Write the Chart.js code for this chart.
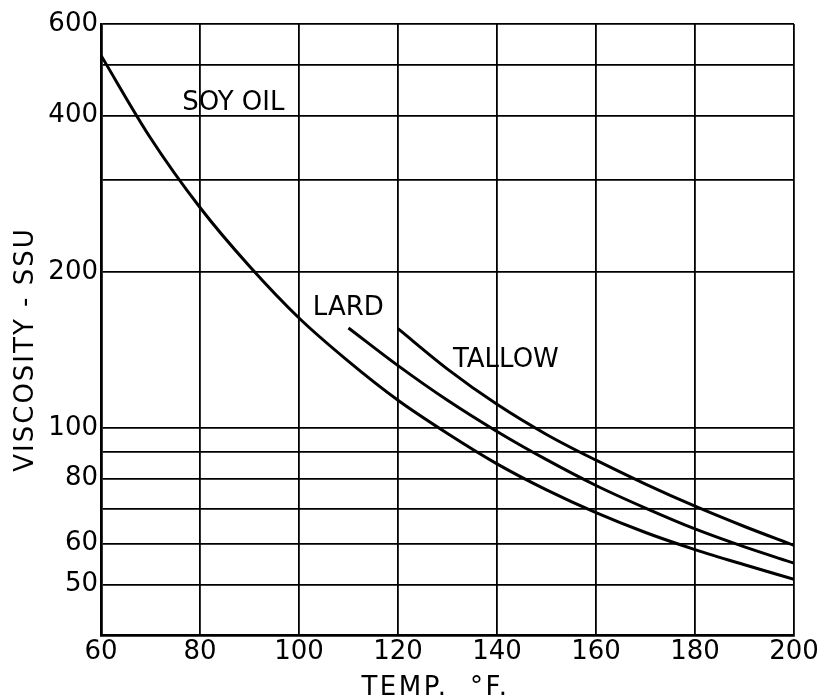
<!DOCTYPE html>
<html>
<head>
<meta charset="utf-8">
<title>Viscosity vs temperature</title>
<script src="https://cdn.jsdelivr.net/npm/chart.js@4.4.1/dist/chart.umd.min.js"></script>
<style>
  html, body { margin: 0; padding: 0; background: #fff; }
  canvas { display: block; }
</style>
</head>
<body>
<canvas id="viscosity-chart" width="821" height="697"></canvas>
<script>
// values (temp °F -> viscosity SSU)
const soyTemps = [60, 70, 80, 90, 100, 110, 120, 130, 140, 150, 160, 170, 180, 190, 200];
const soyOil = [522, 362, 266, 205, 163, 134.5, 113.2, 97.7, 85.4, 76.1, 68.8, 63, 58.4, 54.6, 51.2];
const lardTemps = [110, 120, 130, 140, 150, 160, 170, 180, 190, 200];
const lard = [156, 132, 113.2, 98.6, 87, 77.6, 70.2, 64, 59.1, 55];
const tallowTemps = [120, 130, 140, 150, 160, 170, 180, 190, 200];
const tallow = [155.5, 130, 111.2, 97.3, 86.8, 78.1, 70.8, 64.7, 59.5];

const xTicks = [60, 80, 100, 120, 140, 160, 180, 200];
const yGridValues = [50, 60, 70, 80, 90, 100, 200, 300, 400, 500, 600];
const yLabelValues = [50, 60, 80, 100, 200, 400, 600];
const curveNames = ["SOY OIL", "LARD", "TALLOW"];

const FONT = "DejaVu Sans";

function toPoints(temps, values) {
  return temps.map((t, i) => ({ x: t, y: values[i] }));
}

function curve(label, temps, values) {
  return {
    label,
    data: toPoints(temps, values),
    borderColor: "#000",
    borderWidth: 3,
    pointRadius: 0,
    cubicInterpolationMode: "monotone",
    fill: false,
  };
}

// curve names written next to the lines
const curveLabelPlugin = {
  id: "curveLabels",
  afterDatasetsDraw(chart, args, opts) {
    const { ctx, scales } = chart;
    ctx.save();
    ctx.fillStyle = "#000";
    ctx.font = "26px '" + FONT + "'";
    ctx.textAlign = "left";
    ctx.textBaseline = "middle";
    opts.items.forEach((item) => {
      ctx.fillText(item.text, scales.x.getPixelForValue(item.x), scales.y.getPixelForValue(item.y));
    });
    ctx.restore();
  },
};

// axis titles, drawn by hand for the wide letter spacing
const axisTitlePlugin = {
  id: "axisTitles",
  afterDraw(chart) {
    const { ctx, chartArea } = chart;
    ctx.save();
    ctx.fillStyle = "#000";
    ctx.font = "26px '" + FONT + "'";
    ctx.letterSpacing = "2.5px";
    ctx.textAlign = "center";
    ctx.textBaseline = "alphabetic";
    ctx.fillText("TEMP.  °F.", (chartArea.left + chartArea.right) / 2 - 12, 695);
    ctx.translate(33, (chartArea.top + chartArea.bottom) / 2 + 20);
    ctx.rotate(-Math.PI / 2);
    ctx.letterSpacing = "2px";
    ctx.fillText("VISCOSITY - SSU", 0, 0);
    ctx.restore();
  },
};

function initViscosityChart() {
  const canvas = document.getElementById("viscosity-chart");
  if (!canvas || typeof Chart === "undefined") return;

  new Chart(canvas.getContext("2d"), {
    type: "line",
    data: {
      datasets: [
        curve(curveNames[0], soyTemps, soyOil),
        curve(curveNames[1], lardTemps, lard),
        curve(curveNames[2], tallowTemps, tallow),
      ],
    },
    options: {
      responsive: false,
      animation: false,
      events: [],
      layout: { padding: { left: 0, right: 27, top: 24, bottom: 0 } },
      plugins: {
        legend: { display: false },
        tooltip: { enabled: false },
        curveLabels: {
          items: [
            { text: curveNames[0], x: 76.4, y: 423 },
            { text: curveNames[1], x: 102.8, y: 170 },
            { text: curveNames[2], x: 131.1, y: 135 },
          ],
        },
      },
      scales: {
        x: {
          type: "linear",
          min: 60,
          max: 200,
          afterBuildTicks: (scale) => {
            scale.ticks = xTicks.map((v) => ({ value: v }));
          },
          afterFit: (scale) => {
            scale.height = 62;
          },
          grid: { color: "#000", lineWidth: 1.8, drawTicks: false },
          border: { display: true, color: "#000", width: 2.8 },
          ticks: {
            color: "#000",
            padding: 2,
            maxRotation: 0,
            font: { family: FONT, size: 26 },
          },
        },
        y: {
          type: "logarithmic",
          min: 40,
          max: 600,
          afterBuildTicks: (scale) => {
            scale.ticks = yGridValues.map((v) => ({ value: v }));
          },
          afterFit: (scale) => {
            scale.width = 101;
          },
          grid: { color: "#000", lineWidth: 1.8, drawTicks: false },
          border: { display: true, color: "#000", width: 2.8 },
          ticks: {
            color: "#000",
            padding: 3,
            autoSkip: false,
            font: { family: FONT, size: 26 },
            callback: (v) => (yLabelValues.includes(v) ? String(v) : ""),
          },
        },
      },
    },
    plugins: [curveLabelPlugin, axisTitlePlugin],
  });
}

initViscosityChart();
</script>
</body>
</html>
